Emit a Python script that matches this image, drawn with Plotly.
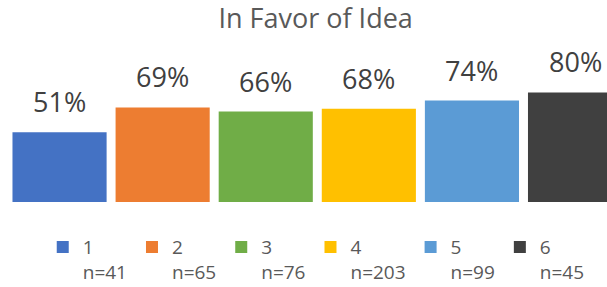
import plotly.graph_objects as go

groups = ["1", "2", "3", "4", "5", "6"]
sample_sizes = [41, 65, 76, 203, 99, 45]
pct_in_favor = [51, 69, 66, 68, 74, 80]
colors = ["#4472C4", "#ED7D31", "#70AD47", "#FFC000", "#5B9BD5", "#404040"]

FONT = "Open Sans"

fig = go.Figure()
for i, (g, n, v, c) in enumerate(zip(groups, sample_sizes, pct_in_favor, colors)):
    fig.add_trace(go.Bar(
        x=[g], y=[v],
        name=f"{g}<br>n={n}",
        marker=dict(color=c, line=dict(width=0)),
        hoverinfo="skip",
    ))
    # category axis: annotation x given as the category index
    fig.add_annotation(
        x=i, y=v, xref="x", yref="y", text=f"{v}%", showarrow=False,
        yanchor="bottom", yshift=10,
        font=dict(family=FONT, size=27, color="#404040"),
    )

fig.update_layout(
    width=607, height=287,
    margin=dict(l=8, r=0, t=65, b=85, autoexpand=False),
    paper_bgcolor="white", plot_bgcolor="white",
    barmode="overlay", bargap=0.087,
    title=dict(text="In Favor of Idea", x=0.52, xanchor="center", y=0.935, yanchor="middle",
               font=dict(family=FONT, size=27, color="#595959")),
    xaxis=dict(type="category", categoryorder="array", categoryarray=groups,
               range=[-0.5, 5.31], showticklabels=False, showgrid=False,
               zeroline=False, showline=False, ticks=""),
    yaxis=dict(range=[0, 100], visible=False),
    showlegend=True,
    legend=dict(orientation="h", x=0.058, xanchor="left", y=-0.19, yanchor="top",
                valign="top", font=dict(family=FONT, size=19, color="#595959"),
                bgcolor="rgba(0,0,0,0)", itemclick=False, itemdoubleclick=False,
                tracegroupgap=0),
    font=dict(family=FONT),
    hovermode=False,
)

fig.write_html(
    "out.html",
    config={"displayModeBar": False, "staticPlot": True},
    post_script="document.body.style.margin='0';document.body.style.overflow='hidden';",
)
